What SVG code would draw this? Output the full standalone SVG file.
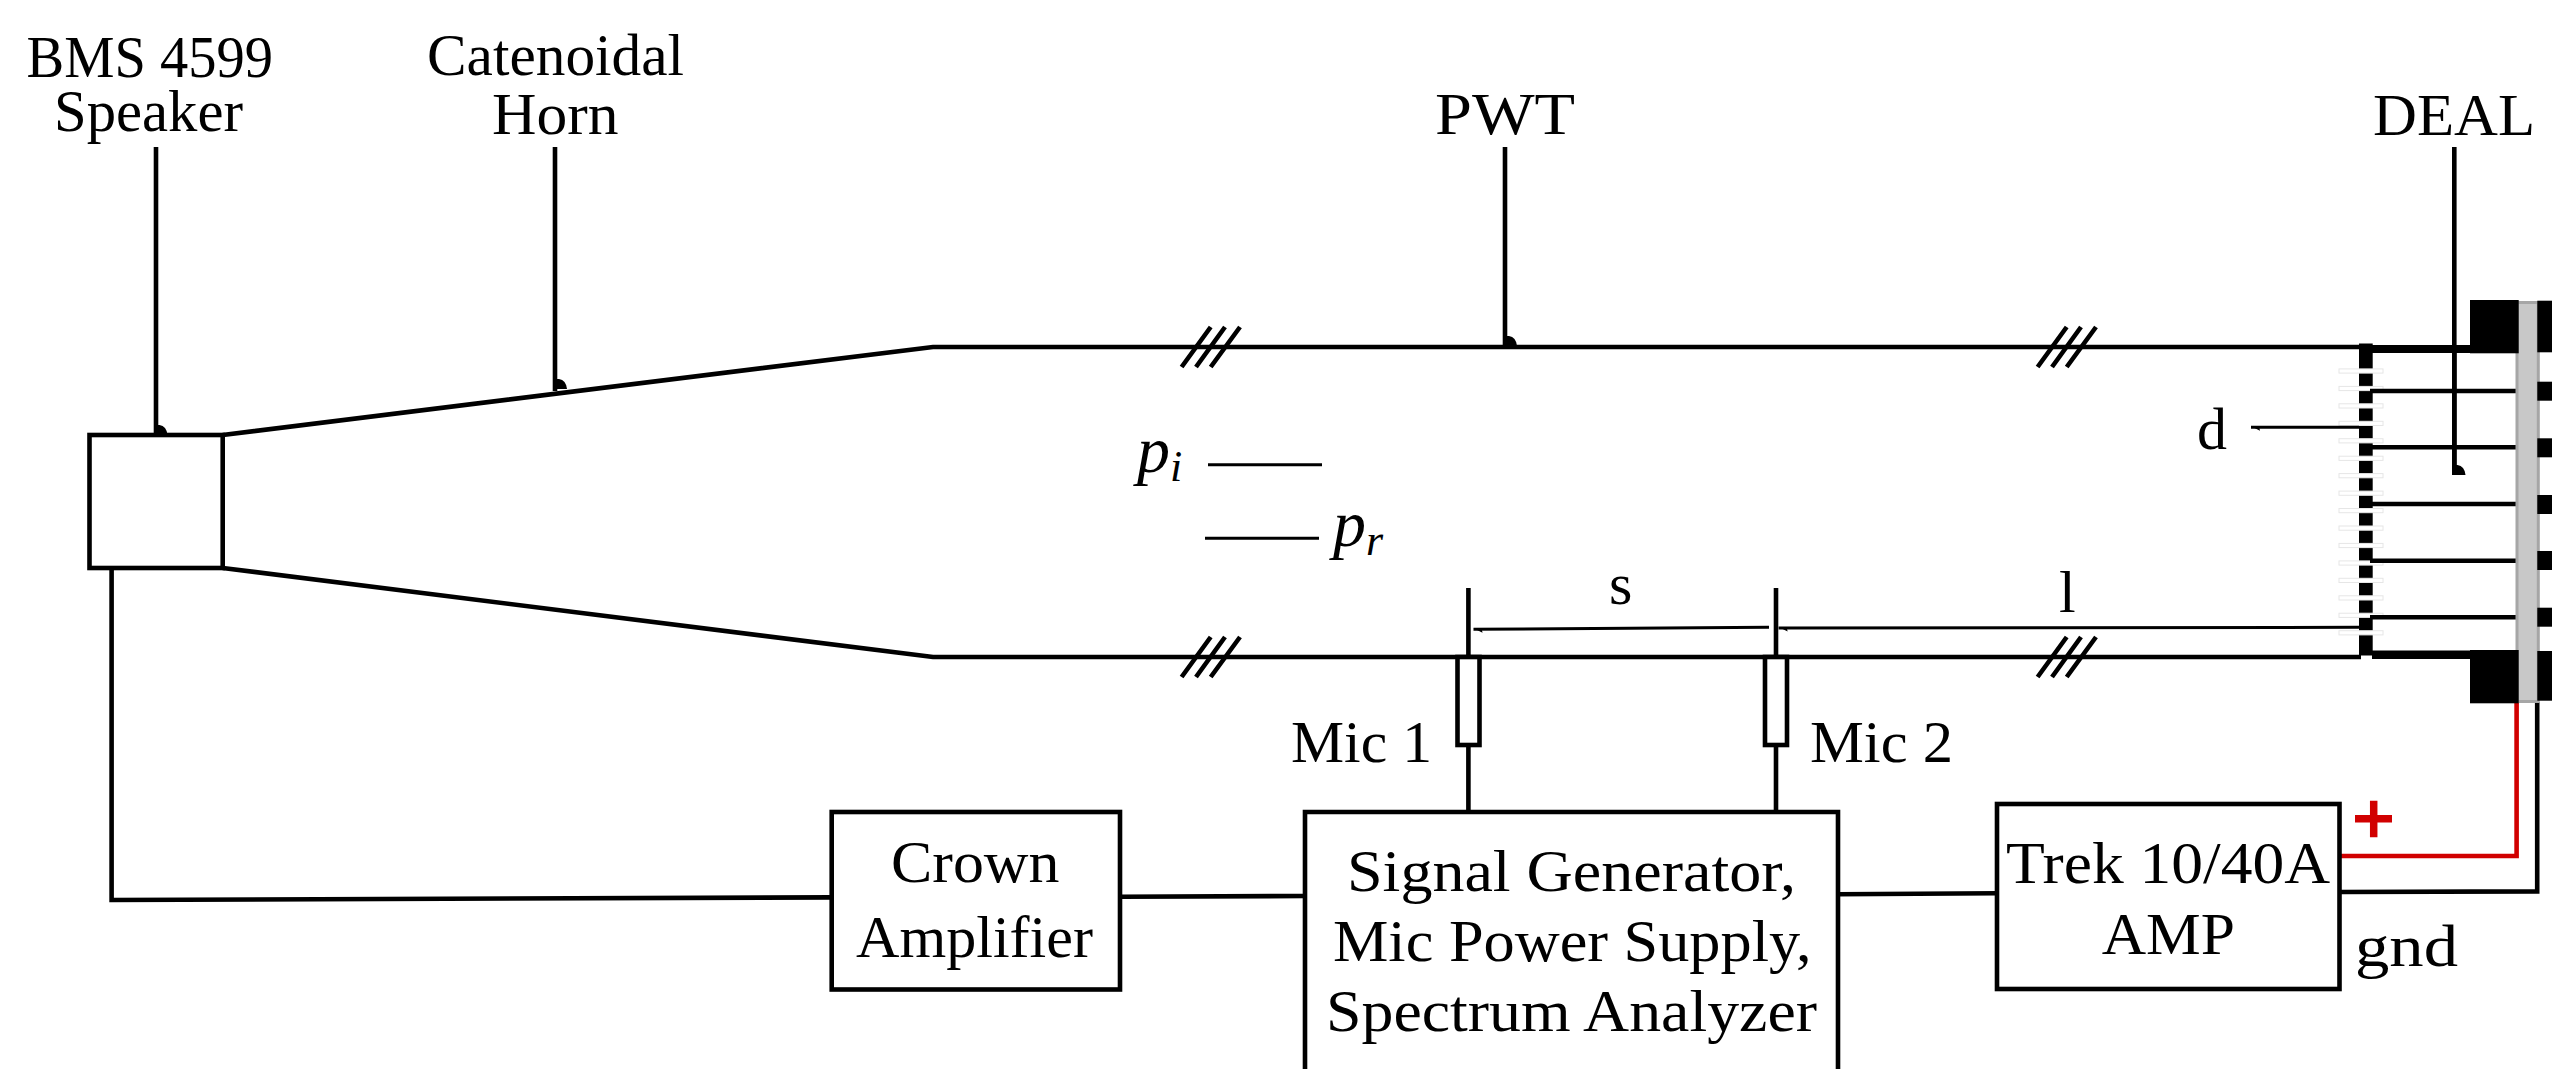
<svg xmlns="http://www.w3.org/2000/svg" xmlns:xlink="http://www.w3.org/1999/xlink" width="2552" height="1069" viewBox="0 0 2552 1069">
<style>
.t{font-family:"Liberation Serif","Times New Roman",serif;font-size:60px;fill:#000}
.i{font-style:italic;font-size:66px}
.s{font-size:44px}
.w{fill:none;stroke:#000;stroke-width:4.6}
.n{fill:none;stroke:#000;stroke-width:3}
.b{fill:#fff;stroke:#000;stroke-width:4.6}
.k{fill:#000;stroke:none}
.r{fill:none;stroke:#d10000;stroke-width:4.6}
.g{fill:#fff;stroke:#e6e6e6;stroke-width:1}
</style>
<defs>
<path id="blob" d="M-2.3,0V-10H3Q10,-9 11,0Z" fill="#000"/>
<marker id="head" markerUnits="userSpaceOnUse" markerWidth="12" markerHeight="10" refX="9" refY="5" orient="auto"><path d="M9,6L0,1.5L1,6Z" fill="#000"/></marker>
<g id="brk"><path class="w" d="M1181.6,20L1210.7,-20M1196,20L1225,-20M1210.7,20L1240,-20"/></g>
</defs>
<rect width="2552" height="1069" fill="#fff"/>

<g id="connectors">
<path class="w" d="M222.7,435L933,347H2361"/>
<path class="w" d="M222.7,568L933,657H2361"/>
<use href="#brk" y="347"/><use href="#brk" x="856" y="347"/>
<use href="#brk" y="657"/><use href="#brk" x="856" y="657"/>
<path class="w" d="M156,147V435M555,147V391M1505,147V347M2454.3,147V475"/>
<use href="#blob" x="156.5" y="435"/><use href="#blob" x="556" y="389"/><use href="#blob" x="1506" y="346"/><use href="#blob" x="2454.5" y="475"/>
<path class="w" d="M1468.4,588V812M1776,588V812"/>
<path class="w" d="M111.6,568V900L832,897.4"/>
<path class="w" d="M1120,896.8L1305,896"/>
<path class="w" d="M1838,894.2L1997,893.2"/>
<path class="r" d="M2340,856H2516.6V703"/>
<path class="w" d="M2340,892L2537.2,891.4V702"/>
<path class="n" d="M1208,464.8H1322"/>
<path class="n" d="M1319,538.3H1205"/>
<path class="n" d="M1769,627.3L1473.5,629.3" marker-end="url(#head)"/>
<path class="n" d="M2359,627.3L1778.6,628" marker-end="url(#head)"/>
</g>

<g id="speaker"><rect class="b" x="89.5" y="435" width="133.2" height="133"/></g>
<g id="mic1"><rect class="b" x="1457.5" y="657" width="22" height="88"/></g>
<g id="mic2"><rect class="b" x="1765" y="657" width="22" height="88"/></g>

<g id="deal">
<rect class="k" x="2372" y="345" width="100" height="8"/>
<rect class="k" x="2372" y="650.5" width="100" height="8.5"/>
<rect class="k" x="2359" y="343.5" width="13.7" height="312"/>
<g>
<rect class="g" x="2339" y="368.9" width="44" height="4.2"/><rect class="g" x="2339" y="386.4" width="44" height="4.2"/><rect class="g" x="2339" y="403.8" width="44" height="4.2"/><rect class="g" x="2339" y="421.3" width="44" height="4.2"/><rect class="g" x="2339" y="438.7" width="44" height="4.2"/><rect class="g" x="2339" y="456.2" width="44" height="4.2"/><rect class="g" x="2339" y="473.6" width="44" height="4.2"/><rect class="g" x="2339" y="491.1" width="44" height="4.2"/><rect class="g" x="2339" y="508.5" width="44" height="4.2"/><rect class="g" x="2339" y="526" width="44" height="4.2"/><rect class="g" x="2339" y="543.4" width="44" height="4.2"/><rect class="g" x="2339" y="560.9" width="44" height="4.2"/><rect class="g" x="2339" y="578.3" width="44" height="4.2"/><rect class="g" x="2339" y="595.8" width="44" height="4.2"/><rect class="g" x="2339" y="613.2" width="44" height="4.2"/><rect class="g" x="2339" y="630.7" width="44" height="4.2"/>
</g>
<path class="w" d="M2370,391H2517M2372,447.3H2517M2372,504H2517M2370,560.7H2517M2370,617.3H2517"/>
<path class="w" d="M2454.3,353V475"/>
<path class="n" d="M2359,427.3H2251" marker-end="url(#head)"/>
<rect x="2517" y="302.5" width="21.3" height="399" fill="#c8c8c8" stroke="#a6a6a6" stroke-width="3"/>
<rect class="k" x="2470" y="300" width="48.7" height="53.3"/>
<rect class="k" x="2470" y="650" width="48.7" height="53.3"/>
<rect class="k" x="2537.3" y="300.7" width="14.7" height="51.6"/>
<rect class="k" x="2537.3" y="381.7" width="14.7" height="19"/>
<rect class="k" x="2537.3" y="438.3" width="14.7" height="19"/>
<rect class="k" x="2537.3" y="495" width="14.7" height="19"/>
<rect class="k" x="2537.3" y="551" width="14.7" height="19"/>
<rect class="k" x="2537.3" y="607.7" width="14.7" height="19"/>
<rect class="k" x="2537.3" y="651" width="14.7" height="49.7"/>
<text class="t" x="2373" y="135" textLength="162" lengthAdjust="spacingAndGlyphs">DEAL</text>
</g>

<g id="crown"><rect class="b" x="831.7" y="812" width="288.3" height="177.5"/>
<text class="t" x="891" y="882" textLength="168.5" lengthAdjust="spacingAndGlyphs">Crown</text>
<text class="t" x="856" y="957" textLength="237" lengthAdjust="spacingAndGlyphs">Amplifier</text></g>

<g id="signal"><path class="b" d="M1305,1071V812H1838V1071"/>
<text class="t" x="1347" y="891" textLength="449" lengthAdjust="spacingAndGlyphs">Signal Generator,</text>
<text class="t" x="1333" y="961" textLength="478.6" lengthAdjust="spacingAndGlyphs">Mic Power Supply,</text>
<text class="t" x="1326" y="1031" textLength="491" lengthAdjust="spacingAndGlyphs">Spectrum Analyzer</text></g>

<g id="trek"><rect class="b" x="1997" y="804" width="342.5" height="185"/>
<text class="t" x="2006" y="883.3" textLength="324" lengthAdjust="spacingAndGlyphs">Trek 10/40A</text>
<text class="t" x="2101.7" y="954.3" textLength="133.3" lengthAdjust="spacingAndGlyphs">AMP</text></g>

<g id="labels">
<text class="t" x="26.6" y="77.3" textLength="246.4" lengthAdjust="spacingAndGlyphs">BMS 4599</text>
<text class="t" x="54" y="131" textLength="189" lengthAdjust="spacingAndGlyphs">Speaker</text>
<text class="t" x="427" y="75.4" textLength="257" lengthAdjust="spacingAndGlyphs">Catenoidal</text>
<text class="t" x="492" y="134" textLength="126.5" lengthAdjust="spacingAndGlyphs">Horn</text>
<text class="t" x="1435" y="134" textLength="140" lengthAdjust="spacingAndGlyphs">PWT</text>
<text class="t" x="1291" y="761.7" textLength="141" lengthAdjust="spacingAndGlyphs">Mic 1</text>
<text class="t" x="1810" y="761.7" textLength="143" lengthAdjust="spacingAndGlyphs">Mic 2</text>
<text class="t" x="1609" y="604">s</text>
<text class="t" x="2059" y="612">l</text>
<text class="t" x="2197" y="449">d</text>
<text class="t" x="2355" y="965.7" textLength="103" lengthAdjust="spacingAndGlyphs">gnd</text>
<text class="t i" x="1137" y="471.7">p<tspan class="s" dy="9">i</tspan></text>
<text class="t i" x="1333" y="546">p<tspan class="s" dy="9">r</tspan></text>
</g>
<g id="plus"><path d="M2355,818.7H2392M2373.7,800.7V837.3" fill="none" stroke="#d10000" stroke-width="7.5"/></g>
</svg>
